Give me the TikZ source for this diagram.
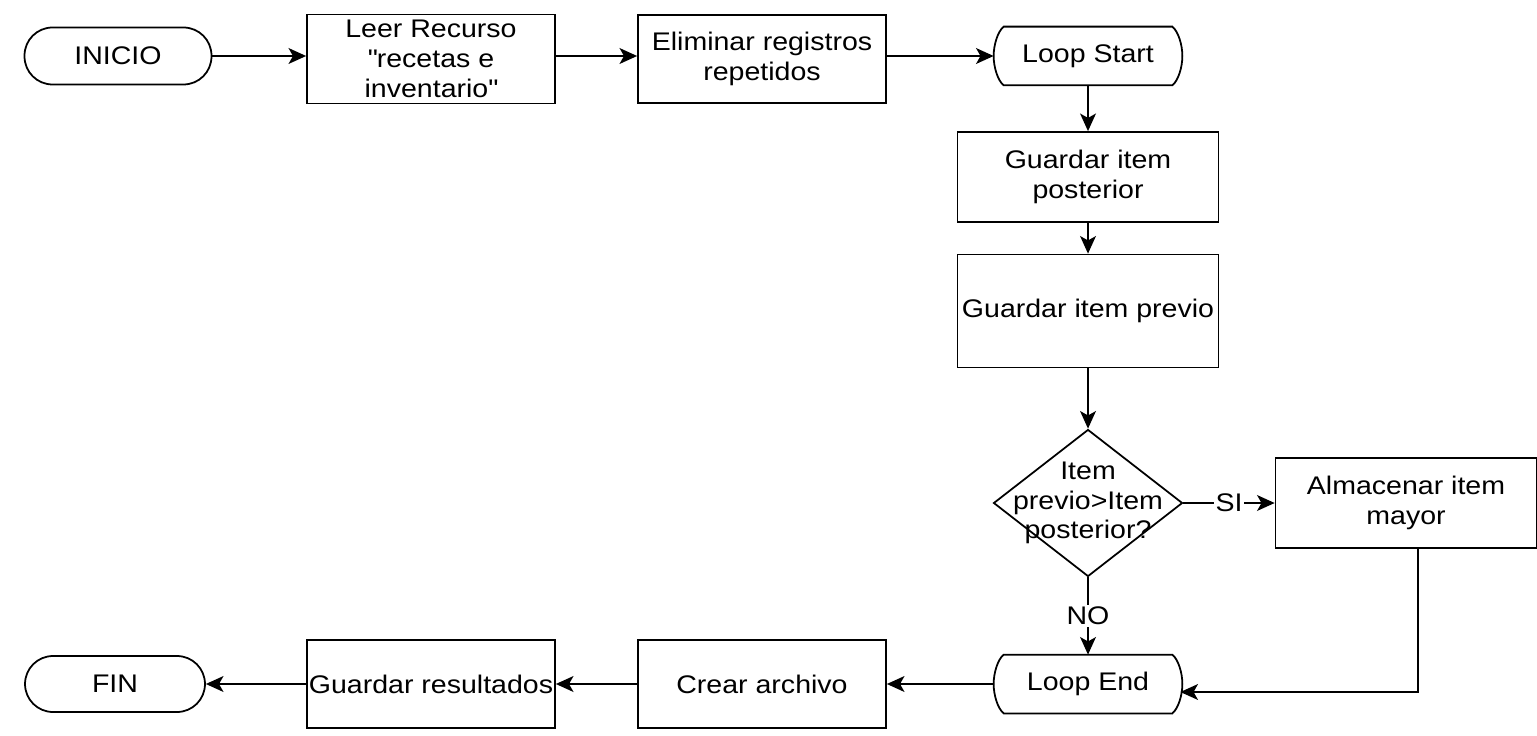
\documentclass[tikz,border=0pt]{standalone}
\usepackage{fontspec}
\setmainfont{Liberation Sans}[FakeStretch=1.12]
\usetikzlibrary{shapes.geometric, arrows.meta, calc}

\tikzset{
  flow/.style={-{Stealth[length=10pt, width=9pt, inset=2.5pt]}},
  terminal/.style={draw, rounded corners=0.56cm, minimum width=3.74cm, minimum height=1.14cm},
  process/.style={draw, align=center, inner xsep=1pt, minimum width=4.96cm, minimum height=1.76cm},
  wideproc/.style={draw, align=center, inner xsep=1pt, minimum width=5.22cm, minimum height=1.8cm},
  loopnode/.style={align=center, minimum width=3.74cm, minimum height=1.14cm},
  decision/.style={draw, diamond, inner sep=0pt, minimum width=3.78cm, minimum height=2.94cm},
  edgelabel/.style={fill=white, inner sep=1pt}
}

% outline of a loop start / loop end node
\newcommand{\loopoutline}[1]{%
  \draw ($(#1.north west)+(10,0)$) -- ($(#1.north east)+(-10,0)$)
    .. controls ($(#1.north east)+(-4,5)$) and ($(#1.east)+(0,-11)$) .. (#1.east)
    .. controls ($(#1.east)+(0,11)$) and ($(#1.south east)+(-4,-5)$) .. ($(#1.south east)+(-10,0)$)
    -- ($(#1.south west)+(10,0)$)
    .. controls ($(#1.south west)+(4,-5)$) and ($(#1.west)+(0,11)$) .. (#1.west)
    .. controls ($(#1.west)+(0,-11)$) and ($(#1.north west)+(4,5)$) .. cycle;}

\begin{document}
\begin{tikzpicture}[x=0.02cm, y=-0.02cm, line width=1pt,
    font=\fontsize{14.5}{17}\selectfont]
  \useasboundingbox (0,0) rectangle (1537,736);

  % Top row
  \node[terminal] (inicio) at (118,56) {INICIO};
  \node[process] (leer) at (431,59) {Leer Recurso\\\textquotedbl recetas e\\inventario\textquotedbl};
  \node[process] (elim) at (762,59) {Eliminar registros\\repetidos};
  \node[loopnode] (lstart) at (1088,56) {Loop Start};
  \loopoutline{lstart}

  % Column under the loop
  \node[wideproc] (post) at (1088,177) {Guardar item\\posterior};
  \node[wideproc, minimum height=2.26cm] (prev) at (1088,311) {Guardar item previo};
  \node[decision] (dec) at (1088,503) {};
  \node[align=center, inner sep=0pt] (dectext) at (dec.center) {Item\\previo>Item\\posterior?};
  \node[wideproc] (alm) at (1406,503) {Almacenar item\\mayor};

  % Bottom row
  \node[loopnode] (lend) at (1088,684) {Loop End};
  \loopoutline{lend}
  \node[process] (crear) at (762,684) {Crear archivo};
  \node[process] (guard) at (431,684) {Guardar resultados};
  \node[terminal, minimum width=3.6cm, minimum height=1.12cm] (fin) at (115,684) {FIN};

  % Connectors
  \draw[flow] (inicio.east) -- (inicio.east -| leer.west);
  \draw[flow] (leer.east |- inicio.east) -- (inicio.east -| elim.west);
  \draw[flow] (elim.east |- lstart.west) -- (lstart.west);
  \draw[flow] (lstart.south) -- (post.north);
  \draw[flow] (post.south) -- (prev.north);
  \draw[flow] (prev.south) -- (dec.north);
  \draw[flow] (dec.east) -- node[edgelabel] {SI} (alm.west);
  \draw[flow] (dec.south) -- node[edgelabel] {NO} (lend.north);
  \coordinate (almout) at ($(alm.south)+(12,0)$);
  \coordinate (lendin) at ($(lend.east)+(-2,8)$);
  \draw[flow] (almout) |- (lendin);
  \draw[flow] (lend.west) -- (crear.east);
  \draw[flow] (crear.west) -- (guard.east);
  \draw[flow] (guard.west) -- (fin.east);

\end{tikzpicture}
\end{document}
